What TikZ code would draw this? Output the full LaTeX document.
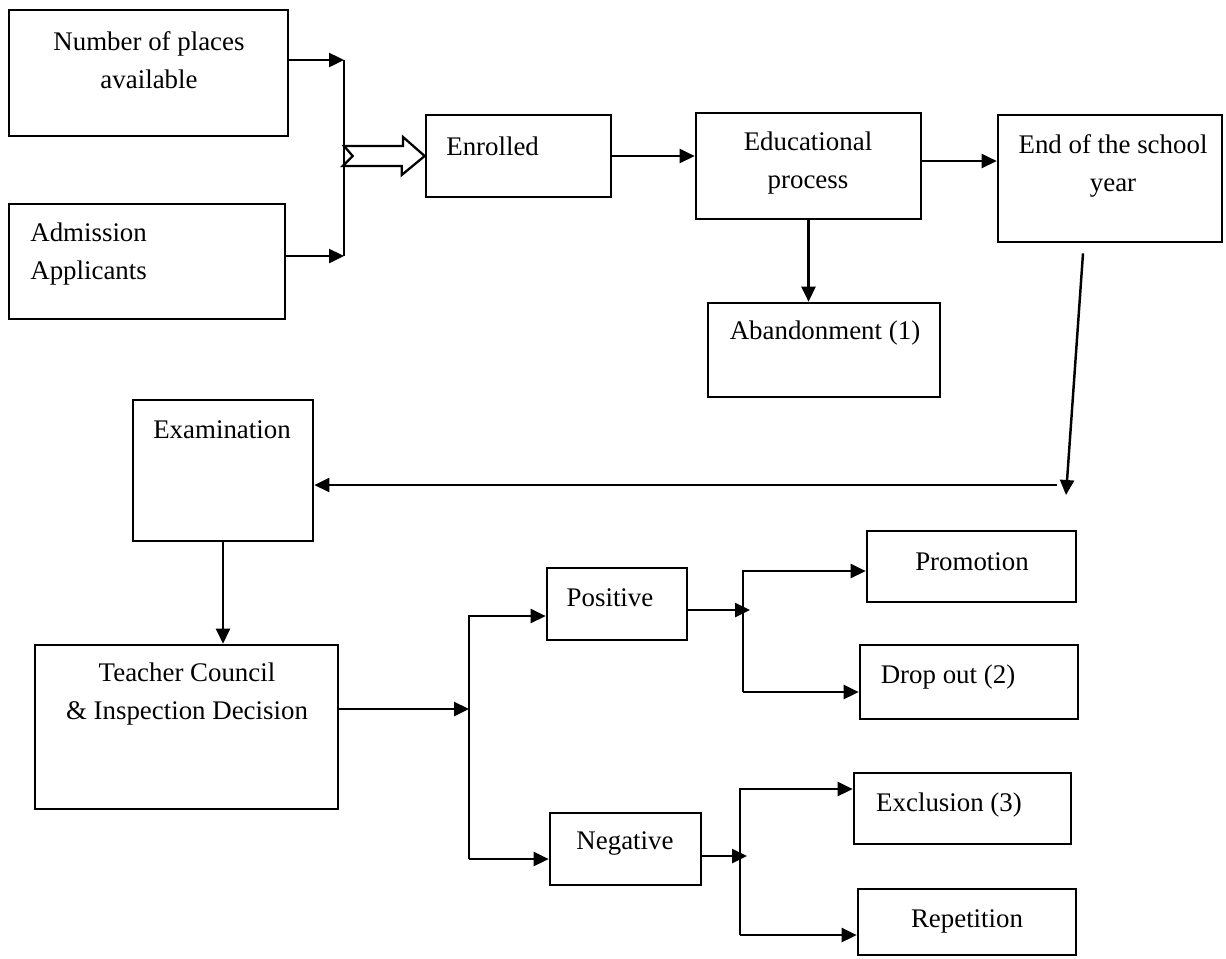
\documentclass[tikz,border=0pt]{standalone}
\usepackage{fontspec}
\setmainfont{Liberation Serif}
\usetikzlibrary{arrows.meta, calc, fit}

\begin{document}
\begin{tikzpicture}[
    x=0.02cm, y=-0.02cm, % one unit per pixel of the scan
    box/.style={draw, line width=1.5pt, inner sep=0pt},
    txt/.style={inner sep=0pt, align=center, font=\fontsize{15.3}{21.5}\selectfont},
    line/.style={line width=1.4pt},
    arr/.style={line, -{Triangle[length=0.3cm, width=0.28cm]}},
    hollow/.style={line width=1.3pt, fill=white}
]
    \useasboundingbox (0,0) rectangle (1226,958);

    % Boxes
    \node[box, fit={(9,10) (288,136)}] (places) {};
    \node[box, fit={(9,204) (285,319)}] (applicants) {};
    \node[box, fit={(426,115) (611,197)}] (enrolled) {};
    \node[box, fit={(696,113) (921,219)}] (edu) {};
    \node[box, fit={(998,115) (1222,242)}] (endyear) {};
    \node[box, fit={(708,303) (940,397)}] (abandon) {};
    \node[box, fit={(133,400) (313,541)}] (exam) {};
    \node[box, fit={(35,645) (338,809)}] (council) {};
    \node[box, fit={(547,568) (687,640)}] (positive) {};
    \node[box, fit={(550,813) (701,885)}] (negative) {};
    \node[box, fit={(867,531) (1076,602)}] (promotion) {};
    \node[box, fit={(860,645) (1078,719)}] (dropout) {};
    \node[box, fit={(854,773) (1071,844)}] (exclusion) {};
    \node[box, fit={(858,889) (1076,955)}] (repetition) {};

    % Texts
    \node[txt] (places-t) at (149,60) {Number of places\\available};
    \node[txt, anchor=west, align=left] (applicants-t) at (30,254) {Admission\\Applicants};
    \node[txt, anchor=west] (enrolled-t) at (446,146) {Enrolled};
    \node[txt] (edu-t) at (808,163) {Educational\\process};
    \node[txt] (endyear-t) at (1113,166) {End of the school\\year};
    \node[txt] (abandon-t) at (825,333) {Abandonment (1)};
    \node[txt] (exam-t) at (222,430) {Examination};
    \node[txt] (council-t) at (187,694) {Teacher Council\\\& Inspection Decision};
    \node[txt] (positive-t) at (610,598) {Positive};
    \node[txt] (negative-t) at (625,843) {Negative};
    \node[txt] (promotion-t) at (972,562) {Promotion};
    \node[txt] (dropout-t) at (948,677) {Drop out (2)};
    \node[txt] (exclusion-t) at (949,805) {Exclusion (3)};
    \node[txt] (repetition-t) at (967,921) {Repetition};

    % Joints
    \coordinate (jtop) at (344,60);
    \coordinate (jbot) at (344,256);
    \coordinate (jmid) at (344,156);
    \coordinate (eduout) at ([yshift=0.1cm]edu.east);
    \coordinate (yearend) at ($(endyear.south)+(-27,10)$);
    \coordinate (corner) at (1066,495);
    \coordinate (turn) at (1057,485);
    \coordinate (split) at (469,709);
    \coordinate (ptop) at (469,616);
    \coordinate (pbot) at (469,859);
    \coordinate (posfork) at (743,610);
    \coordinate (pos-up) at (743,571);
    \coordinate (pos-dn) at (743,692);
    \coordinate (negfork) at (740,856);
    \coordinate (neg-up) at (740,789);
    \coordinate (neg-dn) at (740,935);

    % Connectors
    \draw[arr] (places.east |- jtop) -- (jtop);
    \draw[arr] (applicants.east |- jbot) -- (jbot);
    \draw[line] (jtop) -- (jbot);
    \draw[hollow] (jmid) ++(0,-10) -- ++(59,0) -- ++(0,-9) -- (enrolled.west)
        -- ++(-23,19) -- ++(0,-9) -- ++(-59,0) -- ++(10,-10) -- cycle;
    \draw[arr] (enrolled.east) -- (enrolled.east -| edu.west);
    \draw[arr] (eduout) -- (eduout -| endyear.west);
    \draw[arr] (edu.south) -- (edu.south |- abandon.north);
    \draw[arr] (yearend) -- (corner);
    \draw[arr] (turn) -- (exam.east |- turn);
    \draw[arr] (exam.south) -- (exam.south |- council.north);
    \draw[arr] (council.east |- split) -- (split);
    \draw[arr] (pbot) -- (ptop) -- (ptop -| positive.west);
    \draw[arr] (pbot) -- (pbot -| negative.west);
    \draw[arr] (positive.east |- posfork) -- ($(posfork)+(7,0)$);
    \draw[arr] (pos-dn) -- (pos-up) -- (pos-up -| promotion.west);
    \draw[arr] (pos-dn) -- (pos-dn -| dropout.west);
    \draw[arr] (negative.east |- negfork) -- ($(negfork)+(7,0)$);
    \draw[arr] (neg-dn) -- (neg-up) -- (neg-up -| exclusion.west);
    \draw[arr] (neg-dn) -- (neg-dn -| repetition.west);
\end{tikzpicture}
\end{document}
